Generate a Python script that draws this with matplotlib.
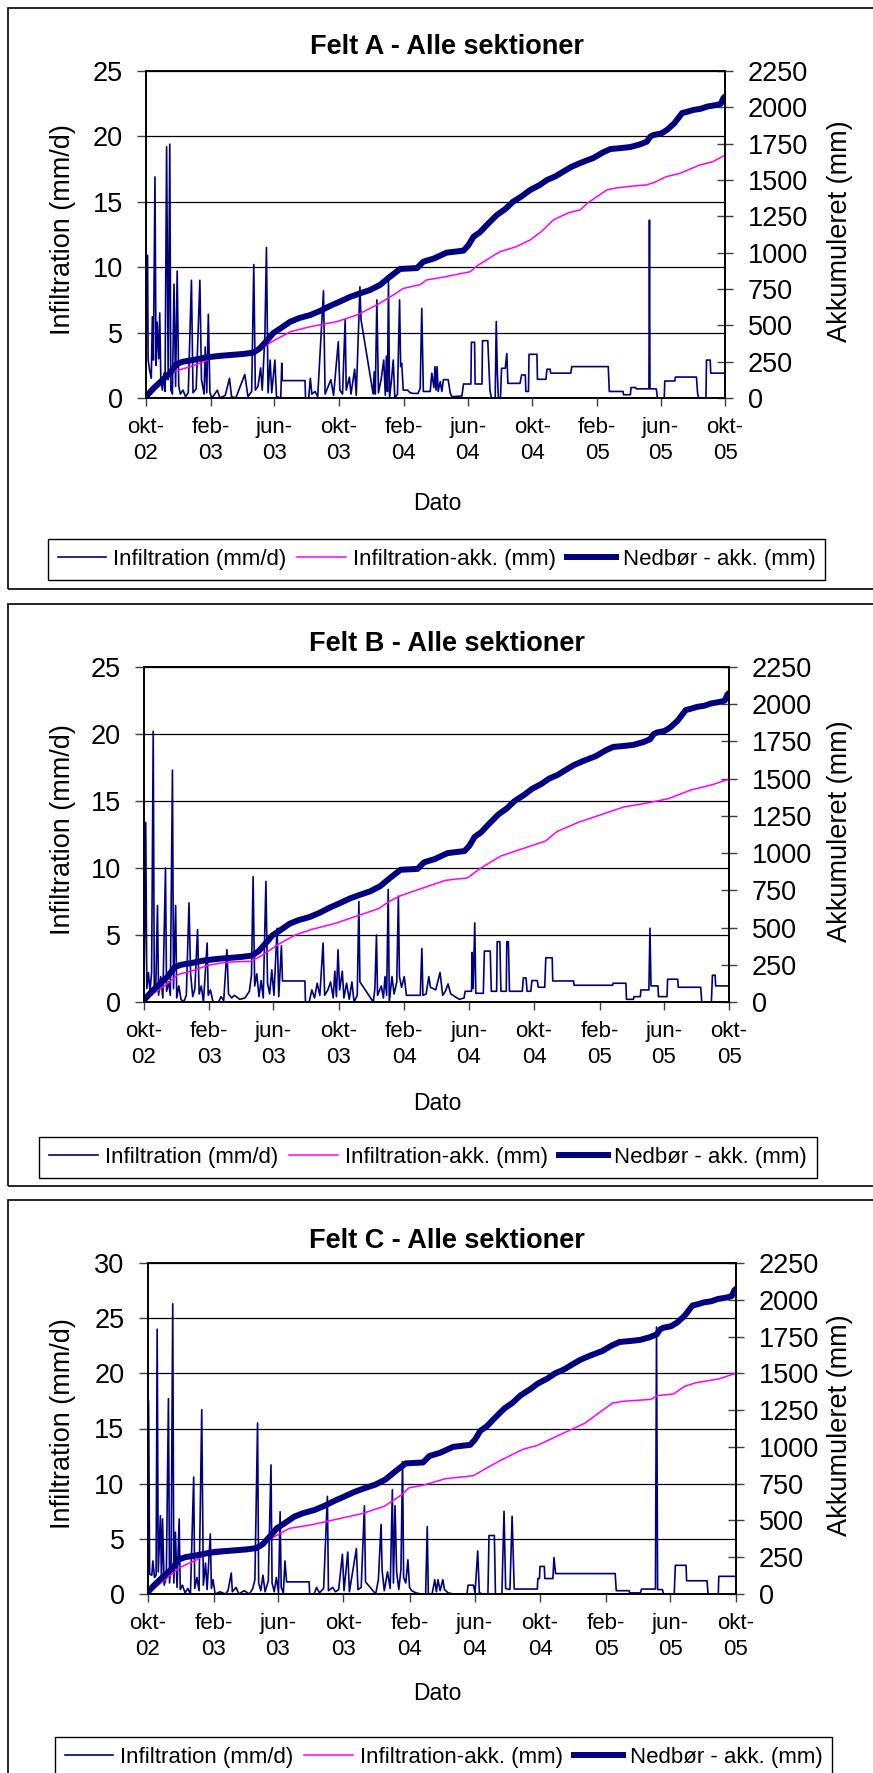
import numpy as np
import matplotlib
matplotlib.use("Agg")
import matplotlib.pyplot as plt
from matplotlib.patches import Rectangle
from matplotlib.lines import Line2D

plt.rcParams["font.family"] = ["Liberation Sans", "DejaVu Sans"]

# ---------------- data ----------------
START = np.datetime64("2002-10-01")
END = np.datetime64("2005-10-01")

tick_dates = ["2002-10-01", "2003-02-01", "2003-06-01", "2003-10-01", "2004-02-01",
              "2004-06-01", "2004-10-01", "2005-02-01", "2005-06-01", "2005-10-01"]
tick_labels = ["okt-\n02", "feb-\n03", "jun-\n03", "okt-\n03", "feb-\n04",
               "jun-\n04", "okt-\n04", "feb-\n05", "jun-\n05", "okt-\n05"]

titles = ["Felt A - Alle sektioner", "Felt B - Alle sektioner", "Felt C - Alle sektioner"]
left_max = [25, 25, 30]
right_max = 2250
legend_labels = ["Infiltration (mm/d)", "Infiltration-akk. (mm)", "Nedbør - akk. (mm)"]

# (day since 2002-10-01, mm) -- accumulated precipitation (same gauge for all fields)
nedbor_akk = [(0, 10), (5, 30), (15, 70), (30, 120), (45, 170), (58, 234), (70, 250),
              (90, 262), (115, 280), (140, 290), (184, 303), (203, 312), (215, 340),
              (230, 400), (241, 447), (255, 480), (273, 525), (290, 550), (311, 571),
              (330, 600), (348, 633), (365, 660), (386, 695), (405, 720), (424, 743),
              (443, 778), (462, 835), (481, 888), (513, 894), (525, 938), (545, 960),
              (569, 1000), (601, 1014), (610, 1050), (620, 1110), (632, 1140), (645, 1190),
              (664, 1259), (680, 1300), (695, 1351), (712, 1390), (727, 1431), (745, 1465),
              (759, 1500), (775, 1525), (790, 1558), (805, 1590), (822, 1617), (847, 1652),
              (865, 1690), (879, 1713), (900, 1720), (917, 1727), (935, 1745), (948, 1764),
              (955, 1800), (961, 1810), (975, 1820), (986, 1844), (1000, 1890), (1015, 1961),
              (1025, 1970), (1036, 1982), (1050, 1990), (1062, 2005), (1081, 2017),
              (1088, 2025), (1093, 2064), (1096, 2075)]

# Felt A
infil_a = [(0, 0), (1, 10.9), (3, 10.9), (4, 2.9), (7, 2.1), (10, 1.5), (12, 6.2), (14, 2.9),
           (17, 16.9), (19, 2.5), (21, 5.8), (24, 3.0), (26, 6.5), (28, 1.6), (31, 0.6),
           (34, 1.9), (36, 0.5), (39, 19.2), (42, 1.4), (45, 19.4), (47, 0.6), (50, 0.3),
           (53, 8.7), (56, 0.9), (59, 9.7), (62, 0.9), (65, 0.3), (70, 0.6), (75, 0.1),
           (80, 0.4), (86, 9.0), (89, 0.4), (95, 0.7), (102, 9.0), (105, 1.4), (110, 0.3),
           (112, 3.9), (115, 0.4), (118, 6.4), (121, 0.4), (125, 0), (135, 0.6), (140, 0),
           (150, 0.2), (158, 1.5), (162, 0.1), (170, 0), (187, 1.8), (193, 0.1), (200, 0.5),
           (204, 10.2), (207, 0.6), (212, 0.9), (217, 2.3), (220, 0.6), (225, 4.7),
           (228, 11.5), (231, 0.4), (235, 2.9), (238, 0.4), (244, 2.9), (247, 0.1), (255, 0),
           (257, 2.65), (258, 1.33), (301, 1.33), (302, 0), (308, 0), (311, 1.5), (314, 0.3),
           (320, 0.5), (325, 0.1), (336, 8.2), (339, 0.3), (345, 0.9), (350, 1.4), (355, 0.2),
           (364, 4.3), (367, 0.6), (372, 0.3), (377, 6.0), (379, 0.6), (385, 1.6), (388, 0.3),
           (395, 2.2), (398, 0.2), (405, 8.5), (407, 6.0), (430, 0.3), (432, 2.0), (434, 0.3),
           (437, 7.5), (440, 0.4), (445, 1.4), (450, 2.9), (453, 0.2), (455, 3.2), (457, 0.5),
           (459, 9.0), (461, 0), (465, 1.5), (468, 2.9), (471, 0), (476, 0.3), (480, 7.5),
           (482, 2.4), (484, 2.65), (487, 0.6), (495, 0.6), (500, 0.4), (506, 0.35),
           (515, 0.35), (519, 0.74), (522, 6.85), (525, 0.5), (538, 0.5), (541, 1.9),
           (545, 0.8), (547, 2.4), (549, 0.6), (551, 2.4), (553, 0.5), (557, 1.25), (560, 0.5),
           (563, 1.4), (572, 1.4), (576, 0.36), (579, 0.1), (598, 0.15), (601, 1.07),
           (615, 1.07), (616, 4.26), (622, 4.26), (623, 1.07), (636, 1.07), (637, 4.38),
           (647, 4.38), (651, 0.6), (654, 0), (661, 0), (663, 5.84), (665, 2.0), (667, 0),
           (671, 0), (673, 2.27), (680, 2.27), (683, 3.4), (685, 1.12), (708, 1.12),
           (711, 1.76), (718, 1.76), (719, 0.5), (724, 0.5), (725, 3.34), (740, 3.34),
           (741, 1.43), (757, 1.43), (759, 2.2), (765, 2.2), (766, 1.9), (804, 1.9),
           (806, 2.4), (875, 2.4), (877, 0.5), (903, 0.5), (904, 0.25), (917, 0.25),
           (918, 0.8), (927, 0.8), (928, 0.7), (952, 0.7), (953, 13.6), (954, 0.7),
           (966, 0.7), (968, 0), (981, 0), (982, 1.3), (1001, 1.3), (1002, 1.6), (1042, 1.6),
           (1044, 0.4), (1046, 0), (1060, 0), (1061, 2.9), (1068, 2.9), (1069, 1.9),
           (1096, 1.9)]
infil_akk_a = [(0, 0), (10, 30), (30, 103), (52, 181), (83, 215), (110, 250), (135, 295),
               (162, 310), (200, 315), (220, 340), (235, 381), (255, 420), (273, 456),
               (311, 491), (361, 525), (399, 571), (437, 640), (468, 709), (487, 754),
               (519, 780), (531, 812), (560, 830), (614, 869), (626, 908), (670, 1007),
               (700, 1040), (727, 1087), (750, 1150), (771, 1225), (800, 1275), (822, 1294),
               (835, 1339), (872, 1431), (890, 1445), (923, 1459), (947, 1466), (960, 1480),
               (985, 1523), (1010, 1545), (1048, 1603), (1073, 1626), (1093, 1665)]

# Felt B
infil_b = [(0, 0), (2, 5), (4, 13.4), (6, 1.0), (9, 2.2), (12, 0.8), (15, 2.2), (18, 20.2),
           (20, 1.0), (23, 1.5), (26, 7.2), (28, 0.5), (32, 1.9), (36, 0.3), (41, 10.0),
           (43, 0.8), (47, 1.5), (50, 0.5), (54, 17.3), (56, 1.0), (60, 7.2), (62, 0.3),
           (66, 1.2), (70, 0.2), (75, 0), (80, 0.5), (85, 7.4), (88, 2.1), (92, 0.4),
           (96, 1.0), (101, 5.4), (104, 0.6), (108, 1.2), (112, 0), (119, 4.4), (121, 0.5),
           (125, 0.9), (130, 0), (140, 0), (145, 0.4), (150, 0.1), (156, 3.9), (159, 0.6),
           (165, 0.3), (170, 0.5), (180, 0.2), (190, 0.3), (198, 0.8), (202, 2.0),
           (205, 9.35), (208, 1.2), (212, 2.1), (216, 0.4), (220, 1.6), (224, 0.3), (229, 9.0),
           (232, 1.4), (236, 0.6), (240, 2.4), (244, 0.5), (250, 5.5), (253, 0.4), (258, 4.2),
           (260, 1.57), (302, 1.57), (303, 0), (310, 0), (315, 0.9), (320, 0.3), (325, 1.4),
           (330, 0.5), (336, 4.4), (339, 0.5), (345, 0.9), (350, 1.5), (355, 0.3), (358, 2.3),
           (361, 0.4), (364, 3.9), (367, 0.9), (372, 2.3), (375, 0.3), (380, 1.4), (385, 0.2),
           (390, 1.5), (394, 0), (400, 0.5), (403, 7.5), (405, 1.5), (430, 0), (433, 1.0),
           (436, 5.0), (438, 0.5), (445, 1.2), (449, 0.3), (452, 1.9), (455, 0.5), (458, 8.4),
           (460, 0), (465, 1.9), (469, 0.6), (474, 1.5), (477, 7.9), (479, 1.9), (483, 1.1),
           (488, 1.9), (492, 0.5), (518, 0.5), (521, 4.0), (523, 0.5), (529, 0.6), (534, 1.9),
           (537, 1.1), (547, 0.9), (555, 2.2), (560, 0.5), (565, 0.8), (570, 1.35), (575, 0.6),
           (583, 0.4), (591, 0.2), (600, 0.3), (602, 0.8), (614, 0.8), (615, 3.7), (617, 1.0),
           (620, 5.9), (622, 0.65), (636, 0.65), (638, 3.8), (649, 3.8), (651, 0.8), (661, 0.8),
           (662, 4.5), (667, 4.5), (669, 0.8), (679, 0.8), (680, 4.5), (683, 4.5), (685, 0.8),
           (709, 0.8), (711, 1.8), (716, 1.8), (718, 0.8), (725, 0.8), (727, 1.6), (737, 1.6),
           (739, 1.1), (751, 1.1), (753, 3.3), (765, 3.3), (766, 1.57), (805, 1.57),
           (806, 1.25), (878, 1.25), (879, 1.4), (903, 1.4), (904, 0.2), (917, 0.2),
           (918, 0.4), (930, 0.4), (931, 0.9), (946, 0.9), (948, 5.5), (950, 1.2), (963, 1.2),
           (964, 0.4), (980, 0.4), (981, 1.7), (1000, 1.7), (1001, 1.1), (1043, 1.1),
           (1045, 0), (1063, 0), (1065, 2.0), (1070, 2.0), (1071, 1.2), (1096, 1.2)]
infil_akk_b = [(0, 0), (20, 60), (44, 121), (65, 185), (91, 210), (122, 248), (158, 268),
               (200, 273), (221, 311), (252, 387), (284, 450), (315, 488), (357, 526),
               (398, 576), (440, 627), (461, 678), (482, 715), (523, 766), (565, 817),
               (607, 834), (628, 892), (669, 981), (711, 1031), (753, 1082), (774, 1145),
               (815, 1208), (857, 1259), (899, 1310), (940, 1335), (982, 1365), (1024, 1423),
               (1066, 1461), (1092, 1492), (1096, 1498)]

# Felt C
infil_c = [(0, 0), (2, 17.5), (4, 1.8), (8, 1.7), (10, 3.0), (13, 1.5), (16, 1.7), (18, 24.0),
           (20, 2.0), (24, 7.1), (26, 1.2), (28, 6.8), (31, 0.8), (35, 1.5), (39, 17.7),
           (41, 1.0), (44, 3.0), (47, 26.3), (49, 1.0), (52, 5.6), (55, 0.6), (59, 6.8),
           (61, 0.4), (65, 0.8), (70, 0.1), (75, 0.5), (80, 0), (86, 10.6), (88, 0.5),
           (92, 1.5), (96, 0.3), (101, 16.7), (104, 0.8), (108, 2.8), (111, 0.4), (117, 5.45),
           (119, 0.5), (122, 1.3), (126, 0), (135, 0.2), (145, 0), (150, 0.3), (156, 1.9),
           (158, 0.2), (165, 0.6), (170, 0), (180, 0.3), (190, 0), (196, 0.5), (200, 1.3),
           (205, 15.5), (207, 1.0), (211, 0.3), (215, 1.7), (219, 0.2), (225, 1.2), (230, 11.7),
           (232, 1.0), (236, 0.2), (240, 1.5), (244, 0.1), (247, 7.45), (249, 0.6), (253, 0.1),
           (256, 3.0), (259, 1.1), (301, 1.1), (302, 0), (310, 0), (315, 0.6), (320, 0.1),
           (328, 0.5), (335, 8.85), (337, 0.3), (345, 0.6), (350, 0.2), (356, 0.4), (363, 3.6),
           (366, 0.3), (373, 3.8), (376, 0.2), (389, 4.1), (392, 0.4), (398, 0.6), (404, 8.0),
           (406, 1.1), (425, 0), (430, 1.3), (435, 6.3), (437, 2.1), (441, 0.3), (447, 2.0),
           (452, 0.5), (456, 9.45), (458, 1.0), (461, 8.0), (464, 2.0), (468, 0.4), (472, 2.2),
           (475, 12.0), (477, 1.5), (481, 1.0), (485, 3.1), (488, 0.6), (492, 0.3), (500, 0.1),
           (510, 0), (518, 0), (521, 6.1), (523, 0), (530, 0), (535, 1.3), (538, 0.2),
           (541, 1.3), (545, 0.3), (550, 1.3), (553, 0.4), (560, 0.1), (570, 0), (595, 0),
           (597, 0.8), (607, 0.8), (610, 0.1), (615, 3.9), (618, 0.1), (625, 0), (634, 0),
           (636, 5.3), (646, 5.3), (648, 0), (660, 0), (664, 7.5), (667, 0.5), (675, 0.4),
           (679, 7.05), (683, 0.45), (726, 0.45), (727, 1.4), (730, 1.4), (731, 2.5),
           (739, 2.5), (740, 1.4), (755, 1.4), (757, 3.3), (760, 1.85), (871, 1.85),
           (873, 0.3), (897, 0.3), (898, 0.1), (918, 0.1), (920, 0.45), (946, 0.45),
           (948, 24.2), (950, 0.4), (959, 0.4), (961, 0), (981, 0), (983, 2.6), (1003, 2.6),
           (1004, 1.2), (1042, 1.2), (1044, 0), (1063, 0), (1064, 1.6), (1096, 1.6)]
infil_akk_c = [(0, 0), (20, 60), (36, 108), (60, 180), (90, 230), (124, 303), (202, 313),
               (233, 383), (264, 446), (306, 471), (347, 504), (399, 546), (441, 596),
               (472, 671), (487, 722), (513, 739), (555, 784), (607, 804), (627, 847),
               (658, 909), (700, 985), (726, 1010), (762, 1072), (814, 1160), (866, 1298),
               (886, 1310), (938, 1323), (949, 1348), (980, 1360), (1000, 1411), (1021, 1436),
               (1063, 1461), (1094, 1498)]

infil_series = [infil_a, infil_b, infil_c]
infil_akk_series = [infil_akk_a, infil_akk_b, infil_akk_c]

# ---------------- layout (pixels) ----------------
W, H = 873, 1773
ax_boxes = [(146, 71, 725, 398), (143.6, 667, 729, 1002), (147.5, 1263, 736, 1594)]
frames = [(8, 8, 880, 589), (8, 604, 880, 1186), (8, 1200, 880, 1790)]
title_base = [54.5, 651, 1248]
legend_centers = [(436.5, 559.5), (428, 1157.5), (443.5, 1757)]
dato_y = [504, 1104, 1693]
ylab_left_x = 63
ylab_right_x = 840

NAVY = "#000080"
MAGENTA = "#FF00FF"


def fx(x):
    return x / W


def fy(y):
    return 1 - y / H


def to_xy(pairs):
    d = np.array([p[0] for p in pairs], dtype=int)
    v = np.array([p[1] for p in pairs], dtype=float)
    return START + d.astype("timedelta64[D]"), v


fig = plt.figure(figsize=(W / 100, H / 100), dpi=100)

nx, ny = to_xy(nedbor_akk)

for i in range(3):
    l, t, r, b = ax_boxes[i]
    aw, ah = r - l, b - t
    ax = fig.add_axes([fx(l), fy(b), aw / W, ah / H])
    ax2 = ax.twinx()

    ix, iy = to_xy(infil_series[i])
    ax.plot(ix, iy, color=NAVY, lw=1.2, solid_joinstyle="round")
    kx, ky = to_xy(infil_akk_series[i])
    ax2.plot(kx, ky, color=MAGENTA, lw=1.1)
    ax2.plot(nx, ny, color=NAVY, lw=4.3, solid_joinstyle="round", solid_capstyle="round")

    ax.set_xlim(START, END)
    ax.set_ylim(0, left_max[i])
    ax2.set_ylim(0, right_max)
    ax.set_yticks(np.arange(0, left_max[i] + 1, 5))
    ax2.set_yticks(np.arange(0, right_max + 1, 250))
    ax.set_xticks(np.array(tick_dates, dtype="datetime64[D]"))
    ax.set_xticklabels(tick_labels)
    for lbl in ax.get_xticklabels():
        lbl.set_linespacing(1.3)

    ax.grid(axis="y", color="black", lw=0.9)
    ax.grid(axis="x", visible=False)

    for a in (ax, ax2):
        for s in a.spines.values():
            s.set_color("black")
            s.set_linewidth(1.2)

    ax.tick_params(axis="y", direction="out", length=6.5, width=1, color="#404040",
                   labelsize=19.5, pad=10)
    ax.tick_params(axis="x", direction="out", length=6, width=1, color="#404040",
                   labelsize=16, pad=8)
    ax2.tick_params(axis="y", direction="inout", length=11, width=1, color="#404040",
                    labelsize=19.5, pad=11)

    ax.set_ylabel("Infiltration (mm/d)", fontsize=19.5, va="center", ha="center")
    ax.yaxis.set_label_coords((ylab_left_x - l) / aw, 0.515)
    ax2.set_ylabel("Akkumuleret (mm)", fontsize=19.5, va="center", ha="center", rotation=90)
    ax2.yaxis.set_label_coords((ylab_right_x - l) / aw, 0.51)
    ax.set_xlabel("Dato", fontsize=16.5, va="center", ha="center")
    ax.xaxis.set_label_coords((437 - l) / aw, (b - dato_y[i]) / ah)

    fig.text(fx(447), fy(title_base[i]), titles[i], ha="center", va="baseline",
             fontsize=19.5, fontweight="bold")

    handles = [Line2D([], [], color=NAVY, lw=1.2),
               Line2D([], [], color=MAGENTA, lw=1.1),
               Line2D([], [], color=NAVY, lw=4.3)]
    cx, cy = legend_centers[i]
    leg = fig.legend(handles, legend_labels, loc="center", bbox_to_anchor=(fx(cx), fy(cy)),
                     ncol=3, fontsize=16, frameon=True, fancybox=False, edgecolor="black",
                     framealpha=1, handlelength=2.2, handletextpad=0.3, columnspacing=0.5,
                     borderpad=0.45, borderaxespad=0)
    leg.get_frame().set_linewidth(1.0)

    x0, y0, x1, y1 = frames[i]
    fig.add_artist(Rectangle((fx(x0), fy(y1)), (x1 - x0) / W, (y1 - y0) / H,
                             transform=fig.transFigure, fill=False, ec="black", lw=1.2,
                             clip_on=False))

fig.savefig("out.png", dpi=100)
